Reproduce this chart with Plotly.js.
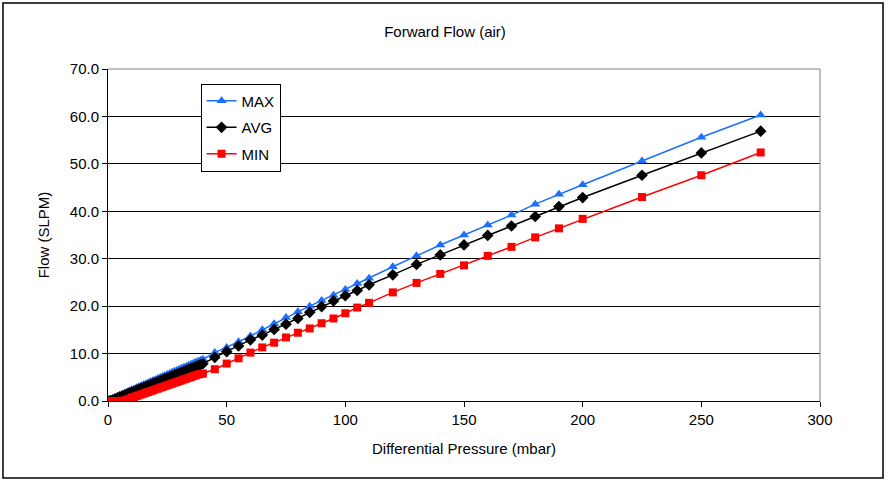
<!DOCTYPE html>
<html>
<head>
<meta charset="utf-8">
<script src="https://cdn.plot.ly/plotly-3.0.1.min.js"></script>
<style>html,body{margin:0;padding:0;background:#fff;}#chart{width:890px;height:483px;}</style>
</head>
<body>
<div id="chart"></div>
<script>
// Differential pressure (mbar)
const pressure = [0,1,2,3,4,5,6,7,8,9,10,11,12,13,14,15,16,17,18,19,20,21,22,23,24,25,26,27,28,29,30,31,32,33,34,35,36,37,38,39,40,
  45,50,55,60,65,70,75,80,85,90,95,100,105,110,120,130,140,150,160,170,180,190,200,225,250,275];

const flowMax = [0,0.2,0.4,0.65,0.9,1.15,1.4,1.65,1.9,2.1,2.35,2.55,2.8,3.0,3.2,3.45,3.65,3.85,4.1,4.3,4.5,4.75,4.95,5.15,5.4,5.6,5.8,6.05,6.25,6.45,6.7,6.9,7.1,7.3,7.55,7.75,7.95,8.2,8.4,8.6,8.8,
  10.2,11.3,12.5,13.7,15.0,16.3,17.6,18.8,20.0,21.2,22.3,23.5,24.8,25.9,28.3,30.6,32.9,35.0,37.1,39.2,41.5,43.6,45.6,50.6,55.6,60.3];

const flowAvg = [0,0.1,0.25,0.45,0.65,0.85,1.05,1.25,1.45,1.65,1.85,2.05,2.25,2.45,2.65,2.85,3.05,3.25,3.45,3.65,3.85,4.05,4.25,4.45,4.65,4.85,5.05,5.25,5.45,5.65,5.85,6.05,6.25,6.45,6.65,6.85,7.05,7.25,7.45,7.65,7.85,
  9.2,10.4,11.6,12.9,13.9,15.1,16.2,17.4,18.7,19.9,21.1,22.2,23.3,24.5,26.6,28.8,30.8,32.9,34.9,36.9,38.9,41.0,42.9,47.6,52.3,56.9];

const flowMin = [0,0,0,0,0,0,0.05,0.1,0.3,0.5,0.7,0.85,1.05,1.2,1.4,1.55,1.75,1.9,2.1,2.25,2.45,2.6,2.8,2.95,3.15,3.3,3.5,3.65,3.85,4.0,4.2,4.35,4.55,4.7,4.9,5.05,5.25,5.4,5.6,5.7,5.8,
  6.7,7.9,9.0,10.2,11.3,12.3,13.4,14.4,15.3,16.4,17.4,18.5,19.7,20.7,22.9,24.9,26.8,28.6,30.6,32.5,34.5,36.4,38.4,43.0,47.6,52.4];

const seriesNames = ['MAX','AVG','MIN'];
const xTicks = [0,50,100,150,200,250,300];
const yTicks = [0,10,20,30,40,50,60,70];

const font = {family:'"Liberation Sans", Arial, sans-serif', size:15, color:'#000'};

const traces = [
  {x:pressure, y:flowMax, name:seriesNames[0], legendgroup:'a', mode:'lines+markers', type:'scatter',
   line:{color:'#1a6fff', width:1.5}, marker:{symbol:'triangle-up', size:9, color:'#1a6fff'}},
  {x:pressure, y:flowAvg, name:seriesNames[1], legendgroup:'b', mode:'lines+markers', type:'scatter',
   line:{color:'#000', width:1.5}, marker:{symbol:'diamond', size:9, color:'#000'}},
  {x:pressure, y:flowMin, name:seriesNames[2], legendgroup:'c', mode:'lines+markers', type:'scatter',
   line:{color:'#ff0000', width:1.5}, marker:{symbol:'square', size:8, color:'#ff0000'}}
];

const layout = {
  width:890, height:483,
  margin:{l:108, r:70, t:69, b:82},
  paper_bgcolor:'#fff', plot_bgcolor:'#fff',
  font:font,
  showlegend:true,
  title:{text:'Forward Flow (air)', font:{family:font.family, size:15, color:'#000'}, x:0.5, xanchor:'center', y:0.935, yanchor:'middle'},
  xaxis:{range:[0,300], tickvals:xTicks, ticktext:xTicks.map(String), showgrid:false, zeroline:false,
    showline:true, linecolor:'#000', linewidth:1, ticks:'outside', ticklen:5, tickcolor:'#000',
    tickfont:font, title:{text:'Differential Pressure (mbar)', font:font, standoff:16}},
  yaxis:{range:[0,70], tickvals:yTicks, ticktext:yTicks.map(v=>v.toFixed(1)), showgrid:true, gridcolor:'#000', gridwidth:1,
    zeroline:false, showline:true, linecolor:'#000', linewidth:1, ticks:'outside', ticklen:5, tickcolor:'#000',
    tickfont:font, title:{text:'Flow (SLPM)', font:font, standoff:16}},
  legend:{x:0.13, y:0.956, xanchor:'left', yanchor:'top', bgcolor:'#fff', bordercolor:'#000', borderwidth:1,
    font:font, tracegroupgap:4, itemwidth:30},
  shapes:[
    {type:'line', xref:'paper', yref:'paper', x0:0, x1:1, y0:1, y1:1, line:{color:'#808080', width:1}, layer:'above'},
    {type:'line', xref:'paper', yref:'paper', x0:1, x1:1, y0:0, y1:1, line:{color:'#808080', width:1}, layer:'above'},
    {type:'rect', xref:'paper', yref:'paper', x0:-0.1475, x1:1.0885, y0:-0.2319, y1:1.1988, line:{color:'#000', width:1.5}, fillcolor:'rgba(0,0,0,0)'}
  ]
};

Plotly.newPlot('chart', traces, layout, {displayModeBar:false, staticPlot:true});
</script>
</body>
</html>
